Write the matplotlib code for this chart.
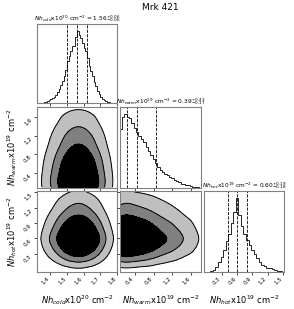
import numpy as np
import matplotlib
matplotlib.use("Agg")
import matplotlib.pyplot as plt

# marginal histograms (bin centres, relative heights)
cold_x = np.round(np.arange(1.325, 1.80, 0.01), 4)
cold_h = [0.0, 0.0, 0.003, 0.006, 0.01, 0.015, 0.025, 0.035, 0.05, 0.065,
          0.085, 0.11, 0.15, 0.19, 0.25, 0.31, 0.38, 0.46, 0.58, 0.66,
          0.72, 0.80, 0.79, 0.92, 1.0, 0.95, 0.90, 0.83, 0.76, 0.72,
          0.62, 0.52, 0.44, 0.37, 0.29, 0.23, 0.17, 0.12, 0.085, 0.06,
          0.04, 0.025, 0.015, 0.01, 0.006, 0.003, 0.001, 0.0]
warm_x = np.round(np.arange(0.10, 1.81, 0.05), 3)
warm_h = [0.80, 0.97, 1.0, 0.97, 0.95, 0.88, 0.82, 0.76, 0.71, 0.66, 0.62, 0.56,
          0.50, 0.45, 0.39, 0.34, 0.29, 0.25, 0.22, 0.19, 0.17, 0.15, 0.13, 0.11,
          0.09, 0.08, 0.06, 0.05, 0.04, 0.035, 0.03, 0.02, 0.015, 0.01, 0.005]
hot_x = np.round(np.arange(-0.05, 1.51, 0.05), 3)
hot_h = [0.0, 0.0, 0.005, 0.01, 0.03, 0.07, 0.13, 0.20, 0.30, 0.42, 0.52, 0.66,
         0.82, 1.0, 0.78, 0.63, 0.52, 0.44, 0.37, 0.30, 0.24, 0.19, 0.14, 0.10,
         0.08, 0.06, 0.05, 0.04, 0.03, 0.02, 0.01, 0.005]

# 16/50/84 percent lines
cold_q = [1.50, 1.56, 1.62]
warm_q = [0.22, 0.45, 0.84]
hot_q = [0.42, 0.60, 0.79]

titles = [r"$Nh_{cold}$x10$^{20}$ cm$^{-2}$ = 1.56$^{+0.06}_{-0.06}$",
          r"$Nh_{warm}$x10$^{19}$ cm$^{-2}$ = 0.39$^{+0.43}_{-0.17}$",
          r"$Nh_{hot}$x10$^{19}$ cm$^{-2}$ = 0.60$^{+0.19}_{-0.18}$"]
labels = [r"$Nh_{cold}$x10$^{20}$ cm$^{-2}$",
          r"$Nh_{warm}$x10$^{19}$ cm$^{-2}$",
          r"$Nh_{hot}$x10$^{19}$ cm$^{-2}$"]
ranges = [(1.32, 1.80), (0.08, 1.81), (-0.05, 1.52)]
ticks = [[1.4, 1.5, 1.6, 1.7, 1.8], [0.4, 0.8, 1.2, 1.6], [0.3, 0.6, 0.9, 1.2, 1.5]]
masses = [0.992, 0.93, 0.77]

xs = [cold_x, warm_x, hot_x]
hs = [np.array(cold_h), np.array(warm_h), np.array(hot_h)]
qs = [cold_q, warm_q, hot_q]
smooth_bins = [3.0, 1.0, 1.5]


def smooth(a, s, axis):
    n = int(np.ceil(3 * s))
    k = np.exp(-0.5 * (np.arange(-n, n + 1) / s) ** 2)
    k /= k.sum()
    pad = [(0, 0), (0, 0)]
    pad[axis] = (n, n)
    a = np.pad(a, pad, mode="edge")
    return np.apply_along_axis(lambda v: np.convolve(v, k, mode="valid"), axis, a)


W, H = 294, 309
fig = plt.figure(figsize=(W / 100, H / 100), dpi=100)
cols = [(37, 117), (120, 201), (204, 284)]
rows = [(24, 103), (107, 188), (191, 272)]


def make_ax(i, j):
    x0, x1 = cols[j]
    y0, y1 = rows[i]
    ax = fig.add_axes([x0 / W, 1 - y1 / H, (x1 - x0) / W, (y1 - y0) / H])
    for s in ax.spines.values():
        s.set_color("0.5")
        s.set_linewidth(0.8)
    ax.tick_params(labelsize=4, length=2, width=0.5, pad=1)
    return ax


for i in range(3):
    for j in range(i + 1):
        ax = make_ax(i, j)
        if i == j:
            x = xs[i]
            h = hs[i]
            dx = x[1] - x[0]
            edges = np.concatenate([x - dx / 2, [x[-1] + dx / 2]])
            ax.stairs(h, edges, color="k", lw=0.6)
            for q in qs[i]:
                ax.axvline(q, color="k", ls="--", lw=0.6)
            ax.set_ylim(0, 1.1 * h.max())
            ax.set_yticks([])
            ax.set_title(titles[i], fontsize=4.2, pad=1.5)
        else:
            # 2D density from the two marginals, lightly smoothed
            Z = np.outer(hs[i], hs[j])
            Z = smooth(Z, smooth_bins[i], 0)
            Z = smooth(Z, smooth_bins[j], 1)
            flat = np.sort(Z.ravel())[::-1]
            cum = np.cumsum(flat) / flat.sum()
            V = [flat[np.argmin(np.abs(cum - m))] for m in masses]
            ax.contourf(xs[j], xs[i], Z, levels=V + [Z.max() * 1.01],
                        colors=["0.75", "0.5", "k"])
            ax.contour(xs[j], xs[i], Z, levels=V, colors="k", linewidths=0.7)
            ax.set_ylim(ranges[i])
        ax.set_xlim(ranges[j])
        ax.set_xticks(ticks[j])
        if i == 2:
            plt.setp(ax.get_xticklabels(), rotation=45, ha="right")
            ax.set_xlabel(labels[j], fontsize=6, labelpad=5)
        else:
            ax.set_xticklabels([])
        if i != j:
            ax.set_yticks(ticks[i])
            if j == 0:
                plt.setp(ax.get_yticklabels(), rotation=45, va="top")
                ax.set_ylabel(labels[i], fontsize=6, labelpad=3)
            else:
                ax.set_yticklabels([])

fig.text(160 / W, 1 - 7 / H, "Mrk 421", ha="center", va="center", fontsize=6.5)
fig.savefig("out.png", dpi=100)
